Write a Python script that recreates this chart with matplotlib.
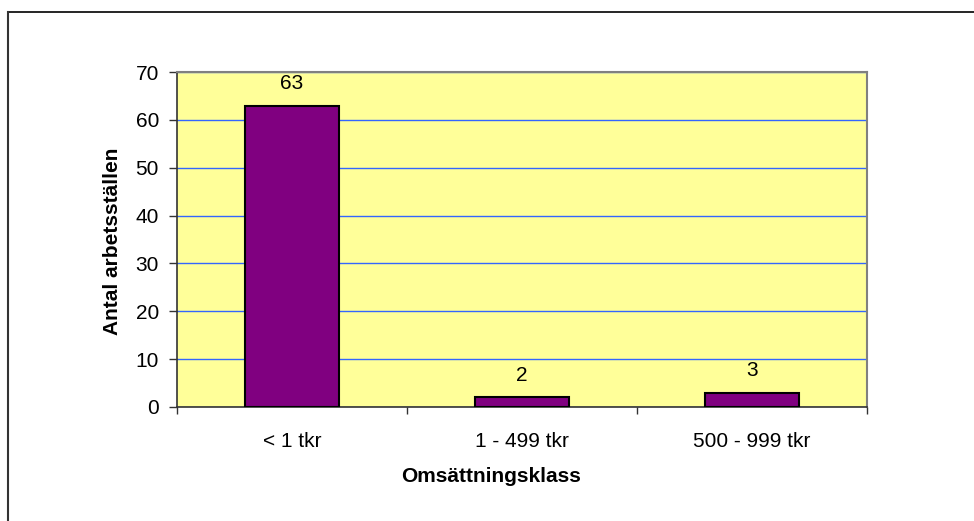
import matplotlib.pyplot as plt
from matplotlib.lines import Line2D

# data
categories = ['< 1 tkr', '1 - 499 tkr', '500 - 999 tkr']
counts = [63, 2, 3]
y_ticks = [0, 10, 20, 30, 40, 50, 60, 70]

W, H = 974, 521
plt.rcParams['font.family'] = ['Liberation Sans', 'DejaVu Sans']
FS = 15

fig = plt.figure(figsize=(W / 100, H / 100), dpi=100)
ax = fig.add_axes([177 / W, 1 - 407 / H, (867 - 177) / W, (407 - 72) / H])
ax.set_facecolor('#FFFF99')

x = range(len(categories))
ax.bar(x, counts, width=0.405, color='#800080', edgecolor='black', linewidth=1.5, zorder=3)
for xi, v in zip(x, counts):
    ax.annotate(str(v), (xi, v), xytext=(0, 9), textcoords='offset points',
                ha='center', va='bottom', fontsize=FS)

ax.set_xlim(-0.5, len(categories) - 0.5)
ax.set_ylim(0, 70)
ax.set_yticks(y_ticks)
ax.set_yticklabels([str(t) for t in y_ticks], fontsize=FS)
ax.yaxis.grid(True, color='#3366FF', linewidth=1.0, snap=True, zorder=1)

# category ticks on boundaries, labels centred under bars
ax.set_xticks([i - 0.5 for i in range(len(categories) + 1)])
ax.set_xticklabels([])
ax.set_xticks(list(x), minor=True)
ax.set_xticklabels(categories, minor=True, fontsize=FS)
ax.tick_params(axis='x', which='major', length=5, width=1, color='#333333')
ax.tick_params(axis='x', which='minor', length=0, pad=18)
ax.tick_params(axis='y', length=6, width=1, color='#333333', pad=7)

for side in ['top', 'right']:
    ax.spines[side].set_color('#808080')
    ax.spines[side].set_linewidth(1.5)
for side in ['left', 'bottom']:
    ax.spines[side].set_color('#333333')
    ax.spines[side].set_linewidth(1.2)

fig.text(112 / W, 1 - 241 / H, 'Antal arbetsställen', rotation=90, ha='center', va='center',
         fontsize=FS, fontweight='bold')
fig.text(491 / W, 1 - 477 / H, 'Omsättningsklass', ha='center', va='center',
         fontsize=FS, fontweight='bold')

# outer chart border (extends off the right and bottom edge)
fig.add_artist(Line2D([8 / W, 1], [1 - 12 / H, 1 - 12 / H], color='black', linewidth=1.2))
fig.add_artist(Line2D([8 / W, 8 / W], [0, 1 - 12 / H], color='#333333', linewidth=1.5))

fig.savefig('out.png', dpi=100)
